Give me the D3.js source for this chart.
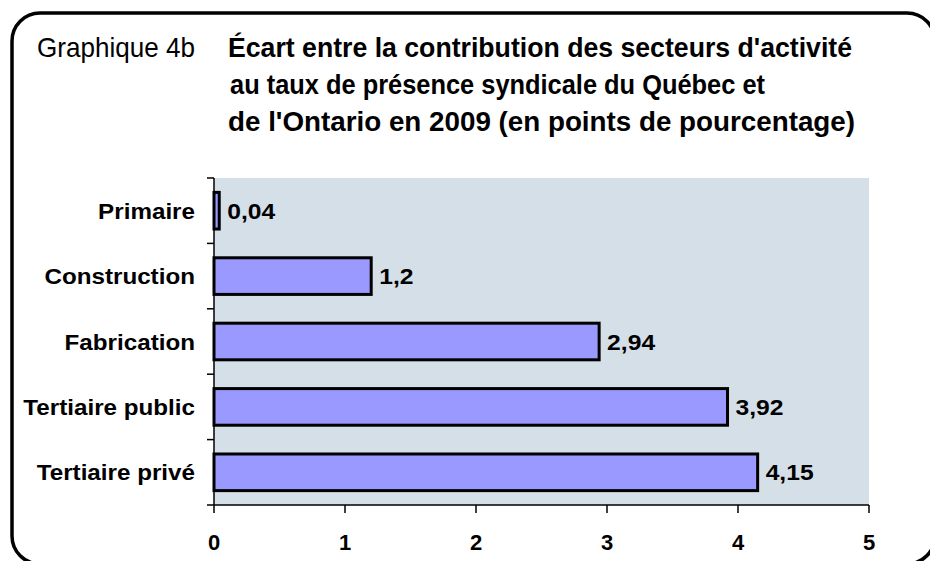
<!DOCTYPE html>
<html><head><meta charset="utf-8">
<script src="https://cdn.jsdelivr.net/npm/d3@7"></script>
<style>html,body{margin:0;padding:0;background:#fff;}svg{display:block;}</style>
</head><body>
<svg id="c" width="930" height="561"></svg>
<script>
const categories = ["Primaire", "Construction", "Fabrication", "Tertiaire public", "Tertiaire privé"];
const values = [0.04, 1.2, 2.94, 3.92, 4.15];
const valueLabels = ["0,04", "1,2", "2,94", "3,92", "4,15"];
const xTicks = [0, 1, 2, 3, 4, 5];
const titlePrefix = "Graphique 4b";
const titleLines = ["Écart entre la contribution des secteurs d'activité",
  "au taux de présence syndicale du Québec et",
  "de l'Ontario en 2009 (en points de pourcentage)"];

(function () {
const svg = d3.select("#c");
const F = "'Liberation Sans', Arial, Helvetica, sans-serif";
function stretch(sel, k) {
  sel.each(function () {
    const len = this.getComputedTextLength();
    d3.select(this).attr("textLength", len * k).attr("lengthAdjust", "spacingAndGlyphs");
  });
}

// frame
svg.append("rect").attr("x", 12).attr("y", 13).attr("width", 923).attr("height", 551)
  .attr("rx", 28).attr("ry", 28).attr("fill", "#fff").attr("stroke", "#000").attr("stroke-width", 3.5);

// titles
svg.append("text").attr("x", 37).attr("y", 57).attr("font-family", F).attr("font-size", 28)
  .attr("textLength", 158).attr("lengthAdjust", "spacingAndGlyphs").text(titlePrefix);
const tl = [{x: 228, y: 57, w: 624}, {x: 230, y: 94, w: 535}, {x: 228, y: 131, w: 627}];
titleLines.forEach((t, i) => {
  svg.append("text").attr("x", tl[i].x).attr("y", tl[i].y).attr("font-family", F)
    .attr("font-size", 28).attr("font-weight", "bold")
    .attr("textLength", tl[i].w).attr("lengthAdjust", "spacingAndGlyphs").text(t);
});

const pL = 214, pR = 869, pT = 178, pB = 505;
const x = d3.scaleLinear().domain([0, 5]).range([pL, pR]);
const y = d3.scaleBand().domain(categories).range([pT, pB]).paddingInner(0.44).paddingOuter(0.22);

svg.append("rect").attr("x", pL).attr("y", pT).attr("width", pR - pL).attr("height", pB - pT)
  .attr("fill", "#d5dfe8");

// bars
svg.selectAll("rect.bar").data(categories).enter().append("rect").attr("class", "bar")
  .attr("x", x(0)).attr("y", d => y(d))
  .attr("width", (d, i) => x(values[i]) - x(0)).attr("height", y.bandwidth())
  .attr("fill", "#9999ff").attr("stroke", "#000").attr("stroke-width", 3);

// value labels
const vl = svg.selectAll("text.val").data(categories).enter().append("text").attr("class", "val")
  .attr("x", (d, i) => x(values[i]) + 8).attr("y", d => y(d) + y.bandwidth() / 2 + 8)
  .attr("font-family", F).attr("font-size", 22).attr("font-weight", "bold")
  .text((d, i) => valueLabels[i]);
stretch(vl, 1.12);

// y axis
const step = y.step();
const bounds = categories.map(c => y(c) - y.paddingInner() * step / 2).concat([pB]);
bounds[0] = pT;
svg.append("line").attr("x1", pL).attr("x2", pL).attr("y1", pT).attr("y2", pB)
  .attr("stroke", "#000").attr("stroke-width", 1.5);
svg.selectAll("line.yt").data(bounds).enter().append("line").attr("class", "yt")
  .attr("x1", pL - 7).attr("x2", pL).attr("y1", d => d).attr("y2", d => d)
  .attr("stroke", "#000").attr("stroke-width", 1.5);
const cl = svg.selectAll("text.cat").data(categories).enter().append("text").attr("class", "cat")
  .attr("x", 195).attr("y", d => y(d) + y.bandwidth() / 2 + 8).attr("text-anchor", "end")
  .attr("font-family", F).attr("font-size", 22).attr("font-weight", "bold").text(d => d);
stretch(cl, 1.10);

// x axis
svg.append("line").attr("x1", pL).attr("x2", pR).attr("y1", pB).attr("y2", pB)
  .attr("stroke", "#000").attr("stroke-width", 1.5);
svg.selectAll("line.xt").data(xTicks).enter().append("line").attr("class", "xt")
  .attr("x1", d => x(d)).attr("x2", d => x(d)).attr("y1", pB).attr("y2", pB + 8)
  .attr("stroke", "#000").attr("stroke-width", 1.5);
svg.selectAll("text.xl").data(xTicks).enter().append("text").attr("class", "xl")
  .attr("x", d => x(d)).attr("y", 550).attr("text-anchor", "middle")
  .attr("font-family", F).attr("font-size", 22).attr("font-weight", "bold").text(d => d);
})();
</script>
</body></html>
